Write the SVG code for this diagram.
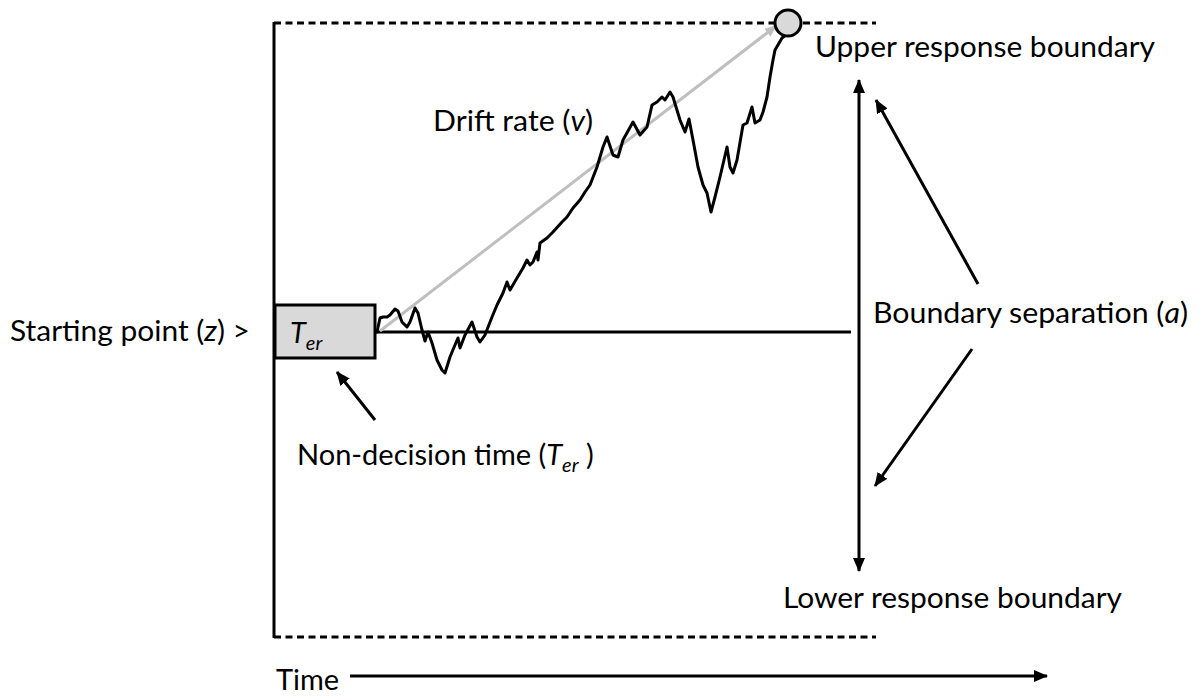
<svg xmlns="http://www.w3.org/2000/svg" width="1203" height="698" viewBox="0 0 1203 698">
<style>
text { font-family: "Lato", "Open Sans", sans-serif; font-size: 29px; fill: #000; }
.it { font-style: italic; }
.sub { font-size: 20px; font-style: italic; }
.ln { stroke: #000; stroke-width: 3; fill: none; }
.dash { stroke: #000; stroke-width: 3; fill: none; stroke-dasharray: 7 4.5; }
</style>
<defs>
<marker id="ah" markerUnits="userSpaceOnUse" markerWidth="14" markerHeight="12" refX="13" refY="6" orient="auto-start-reverse">
<path d="M0,0 L14,6 L0,12 Z" fill="#000"/>
</marker>
<marker id="ahg" markerUnits="userSpaceOnUse" markerWidth="12" markerHeight="10" refX="11" refY="5" orient="auto">
<path d="M0,0 L12,5 L0,10 Z" fill="#bfbfbf"/>
</marker>
</defs>

<g id="frame">
<line class="ln" x1="274" y1="22" x2="274" y2="638"/>
<line class="dash" x1="274" y1="23" x2="876" y2="23"/>
<line class="dash" x1="274" y1="637" x2="876" y2="637"/>
<line class="ln" x1="375" y1="332" x2="851" y2="332"/>
</g>

<g id="connectors">
<line class="ln" x1="859" y1="80" x2="859" y2="571" marker-start="url(#ah)" marker-end="url(#ah)"/>
<line class="ln" x1="978" y1="284" x2="876" y2="100" marker-end="url(#ah)"/>
<line class="ln" x1="972" y1="349" x2="875" y2="486" marker-end="url(#ah)"/>
<line class="ln" x1="375" y1="420" x2="337" y2="372" marker-end="url(#ah)"/>
<line class="ln" x1="350" y1="676" x2="1047" y2="676" marker-end="url(#ah)"/>
<line stroke="#bfbfbf" stroke-width="3" x1="380" y1="331" x2="776" y2="26" marker-end="url(#ahg)"/>
</g>

<g id="walk">
<polyline class="ln" stroke-width="3.5" stroke-linejoin="round" stroke-linecap="round" points="377,332 380,318 383,317 387,317 390,315 395,309 398,311 402,322 407,327 410,322 415,308 418,313 422,330 425,341 428,332 432,343 437,360 442,370 445,373 450,357 455,345 458,338 460,348 465,335 472,322 477,337 480,342 485,335 492,317 497,305 503,293 507,282 510,290 517,278 523,268 527,260 530,265 533,262 537,252 538,260 540,243 547,238 553,232 562,222 567,217 573,208 580,200 585,192 590,185 597,167 603,147 607,137 613,155 618,157 623,140 633,122 640,135 647,127 652,105 657,102 662,97 665,100 670,92 673,97 680,120 685,132 689,119 693,140 698,167 703,185 707,193 711,212 715,197 720,177 727,147 730,167 733,173 737,160 743,125 747,123 752,107 755,123 760,120 763,112 767,97 770,77 773,60 775,50 782,38 787,34"/>
</g>

<g id="ter-box">
<rect x="275" y="305" width="100" height="53" fill="#d9d9d9" stroke="#000" stroke-width="3"/>
<text x="290" y="343" class="it" font-size="31">T<tspan class="sub" dy="7">er</tspan></text>
</g>

<g id="end-point">
<circle cx="788" cy="23" r="13" fill="#d9d9d9" stroke="#000" stroke-width="3"/>
</g>

<g id="labels">
<text x="10" y="341" textLength="240" lengthAdjust="spacingAndGlyphs">Starting point (<tspan class="it">z</tspan>) &gt;</text>
<text x="433" y="131" textLength="160" lengthAdjust="spacingAndGlyphs">Drift rate (<tspan class="it">v</tspan>)</text>
<text x="815" y="57" textLength="340" lengthAdjust="spacingAndGlyphs">Upper response boundary</text>
<text x="873" y="323" textLength="315" lengthAdjust="spacingAndGlyphs">Boundary separation (<tspan class="it">a</tspan>)</text>
<text x="783" y="608" textLength="339" lengthAdjust="spacingAndGlyphs">Lower response boundary</text>
<text x="297" y="465">Non-decision time (<tspan class="it">T</tspan><tspan class="sub" dy="7">er</tspan><tspan dy="-7"> )</tspan></text>
<text x="276" y="690">Time</text>
</g>
</svg>
